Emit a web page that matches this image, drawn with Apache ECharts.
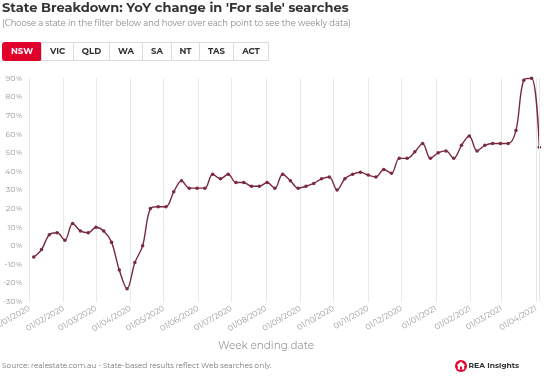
<!DOCTYPE html>
<html>
<head>
<meta charset="utf-8">
<script src="https://cdn.jsdelivr.net/npm/echarts@6/dist/echarts.min.js"></script>
<style>html,body{margin:0;padding:0;background:#fff}#c{width:554px;height:387px}</style>
</head>
<body>
<div id="c"></div>
<script>
const weekEnding = [
  '2020-01-05','2020-01-12','2020-01-19','2020-01-26','2020-02-02','2020-02-09','2020-02-16','2020-02-23',
  '2020-03-01','2020-03-08','2020-03-15','2020-03-22','2020-03-29','2020-04-05','2020-04-12','2020-04-19',
  '2020-04-26','2020-05-03','2020-05-10','2020-05-17','2020-05-24','2020-05-31','2020-06-07','2020-06-14',
  '2020-06-21','2020-06-28','2020-07-05','2020-07-12','2020-07-19','2020-07-26','2020-08-02','2020-08-09',
  '2020-08-16','2020-08-23','2020-08-30','2020-09-06','2020-09-13','2020-09-20','2020-09-27','2020-10-04',
  '2020-10-11','2020-10-18','2020-10-25','2020-11-01','2020-11-08','2020-11-15','2020-11-22','2020-11-29',
  '2020-12-06','2020-12-13','2020-12-20','2020-12-27','2021-01-03','2021-01-10','2021-01-17','2021-01-24',
  '2021-01-31','2021-02-07','2021-02-14','2021-02-21','2021-02-28','2021-03-07','2021-03-14','2021-03-21',
  '2021-03-28','2021-04-04'
];
const nswYoY = [
  -6, -2, 6, 7, 3, 12, 8, 7,
  10, 8, 2, -13, -23, -9, 0, 20,
  21, 21, 29, 35, 31, 31, 31, 38.5,
  36, 38.5, 34, 34, 32, 32, 34, 31,
  38.5, 35, 31, 32, 33.5, 36, 37, 30,
  36, 38.5, 39.5, 38, 37, 41, 39, 47,
  47, 50.5, 55, 47, 50, 51, 47, 54,
  59, 51, 54, 55, 55, 55, 62, 89,
  90, 53
];
const states = ['NSW','VIC','QLD','WA','SA','NT','TAS','ACT'];
const yTicks = {min: -30, max: 90, step: 10};
const axisStart = '2020-01-01';

const chart = echarts.init(document.getElementById('c'), null, {renderer: 'canvas'});
const FONT = 'Montserrat, "Open Sans", sans-serif';
const btnX = [2, 41, 73, 109, 142, 171, 199, 233, 268];
const buttons = states.map((s, i) => ({
  type: 'group',
  children: [
    {type: 'rect', shape: {x: btnX[i] + 0.5, y: 42.5, width: btnX[i+1] - btnX[i], height: 18, r: i === 0 ? 2 : 0},
     style: {fill: i === 0 ? '#e1002b' : '#fff', stroke: i === 0 ? '#e1002b' : '#dcdcdc', lineWidth: 1}},
    {type: 'text', x: (btnX[i] + btnX[i+1]) / 2 + 0.5, y: 51.5,
     style: {text: s, fill: i === 0 ? '#fff' : '#333', font: 'bold 8.5px ' + FONT, align: 'center', verticalAlign: 'middle'}}
  ]
}));

chart.setOption({
  animation: false,
  textStyle: {fontFamily: FONT},
  grid: {left: 29.3, right: 14.7, top: 78.3, bottom: 85.3, containLabel: false, outerBoundsMode: 'none'},
  xAxis: {
    type: 'time',
    min: axisStart,
    max: weekEnding[weekEnding.length - 1],
    minInterval: 28 * 86400000,
    maxInterval: 31 * 86400000,
    splitNumber: 16,
    axisLine: {show: false},
    axisTick: {show: false},
    splitLine: {show: true, lineStyle: {color: '#e8e8e8', width: 1}},
    axisLabel: {
      formatter: '{dd}/{MM}/{yyyy}', rotate: 30, color: '#9a9a9a', fontSize: 8,
      showMinLabel: true, showMaxLabel: false, hideOverlap: false, margin: 6
    }
  },
  yAxis: {
    type: 'value', min: yTicks.min, max: yTicks.max, interval: yTicks.step,
    axisLine: {show: false}, axisTick: {show: false}, splitLine: {show: false},
    axisLabel: {formatter: '{value}%', color: '#9a9a9a', fontSize: 8, margin: 7}
  },
  series: [{
    type: 'line',
    data: weekEnding.map((d, i) => [d, nswYoY[i]]),
    smooth: 0.35,
    symbol: 'circle', symbolSize: 3.5,
    lineStyle: {color: '#7a2a3d', width: 1.4},
    itemStyle: {color: '#7a2a3d'},
    markLine: {
      silent: true, symbol: 'none', label: {show: false},
      lineStyle: {color: '#e8e8e8', type: 'solid', width: 1},
      data: [{xAxis: axisStart}, {xAxis: weekEnding[weekEnding.length - 1]}]
    },
    z: 3
  }],
  graphic: [
    {type: 'text', left: 2, top: 2, style: {text: "State Breakdown: YoY change in 'For sale' searches", fill: '#333', font: 'bold 13px ' + FONT}},
    {type: 'text', left: 2, top: 20, style: {text: '(Choose a state in the filter below and hover over each point to see the weekly data)', fill: '#888', font: '8.4px ' + FONT}},
    ...buttons,
    {type: 'text', x: 266, y: 346, style: {text: 'Week ending date', fill: '#9a9a9a', font: '10.4px ' + FONT, align: 'center', verticalAlign: 'middle'}},
    {type: 'text', x: 2, y: 366, style: {text: 'Source: realestate.com.au - State-based results reflect Web searches only.', fill: '#777', font: '7.4px ' + FONT, verticalAlign: 'middle'}},
    {type: 'circle', shape: {cx: 461, cy: 366, r: 6}, style: {fill: '#e1002b'}},
    {type: 'polygon', shape: {points: [[461, 361.5], [465.5, 365.5], [464.2, 365.5], [464.2, 369.5], [457.8, 369.5], [457.8, 365.5], [456.5, 365.5]]}, style: {fill: '#fff'}},
    {type: 'rect', shape: {x: 460, y: 366.5, width: 2, height: 3}, style: {fill: '#e1002b'}},
    {type: 'text', x: 468.5, y: 366, style: {text: 'REA Insights', fill: '#333', font: 'bold 7.6px ' + FONT, verticalAlign: 'middle'}}
  ]
});
</script>
</body>
</html>
